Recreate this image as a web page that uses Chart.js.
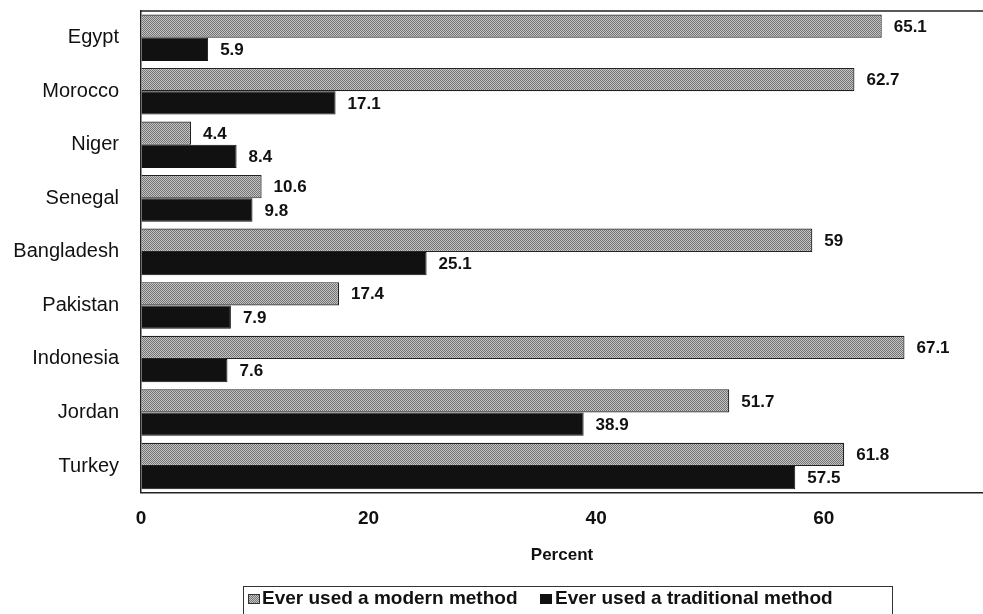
<!DOCTYPE html>
<html>
<head>
<meta charset="utf-8">
<script src="https://cdn.jsdelivr.net/npm/chart.js@4"></script>
<style>
  html, body { margin: 0; padding: 0; background: #fff; }
  #wrap { position: relative; width: 983px; height: 614px; overflow: hidden; }
  #c { position: absolute; left: 0; top: 0; }
  #legend {
    position: absolute; left: 243px; top: 586px; width: 650px; height: 40px;
    border: 1px solid #333; box-sizing: border-box;
    font: bold 19px "Liberation Sans", Arial, sans-serif; color: #111;
  }
  .sw { position: absolute; top: 7px; width: 12px; height: 10px; }
  .sw.mod { border: 1px solid #333; box-sizing: border-box;
    background-image: conic-gradient(#777 25%, #c4c4c4 0 50%, #777 0 75%, #c4c4c4 0);
    background-size: 2px 2px; }
  .sw.trad { background: #111; }
  .lt { position: absolute; top: -1px; white-space: nowrap; line-height: 24px; }
</style>
</head>
<body>
<div id="wrap">
  <canvas id="c" width="983" height="614"></canvas>
  <div id="legend"></div>
</div>
<script>
const categories = ["Egypt", "Morocco", "Niger", "Senegal", "Bangladesh", "Pakistan", "Indonesia", "Jordan", "Turkey"];
const modernValues = [65.1, 62.7, 4.4, 10.6, 59, 17.4, 67.1, 51.7, 61.8];
const traditionalValues = [5.9, 17.1, 8.4, 9.8, 25.1, 7.9, 7.6, 38.9, 57.5];
const seriesNames = ["Ever used a modern method", "Ever used a traditional method"];
const xTickValues = [0, 20, 40, 60];
const xAxisTitle = "Percent";

// stipple pattern for the modern series
function makePattern() {
  const p = document.createElement('canvas');
  p.width = 4; p.height = 4;
  const g = p.getContext('2d');
  g.fillStyle = '#c4c4c4'; g.fillRect(0, 0, 4, 4);
  g.fillStyle = '#737373';
  g.fillRect(0, 0, 1, 1); g.fillRect(2, 0, 1, 1);
  g.fillRect(1, 1, 1, 1); g.fillRect(3, 1, 1, 1);
  g.fillRect(0, 2, 1, 1); g.fillRect(2, 2, 1, 1);
  g.fillRect(1, 3, 1, 1); g.fillRect(3, 3, 1, 1);
  return document.getElementById('c').getContext('2d').createPattern(p, 'repeat');
}

// HTML legend
(function () {
  const lg = document.getElementById('legend');
  lg.innerHTML =
    '<span class="sw mod" style="left:4px"></span><span class="lt" style="left:18px">' + seriesNames[0] + '</span>' +
    '<span class="sw trad" style="left:296px"></span><span class="lt" style="left:311px">' + seriesNames[1] + '</span>';
})();

const valueLabels = {
  id: 'valueLabels',
  afterDatasetsDraw(chart) {
    const ctx = chart.ctx;
    ctx.save();
    ctx.font = 'bold 17px "Liberation Sans", Arial, sans-serif';
    ctx.fillStyle = '#111';
    ctx.textAlign = 'left';
    ctx.textBaseline = 'middle';
    chart.data.datasets.forEach((ds, di) => {
      const meta = chart.getDatasetMeta(di);
      meta.data.forEach((bar, i) => {
        ctx.fillText(String(ds.data[i]), bar.x + 12, bar.y + 1);
      });
    });
    ctx.restore();
  }
};

const frameTop = {
  id: 'frameTop',
  afterDraw(chart) {
    const a = chart.chartArea, ctx = chart.ctx;
    ctx.save();
    ctx.strokeStyle = '#222';
    ctx.lineWidth = 1.5;
    ctx.beginPath();
    ctx.moveTo(a.left - 1, a.top);
    ctx.lineTo(a.right, a.top);
    ctx.stroke();
    ctx.restore();
  }
};

const pattern = makePattern();

new Chart(document.getElementById('c'), {
  type: 'bar',
  data: {
    labels: categories,
    datasets: [
      { label: seriesNames[0], data: modernValues, backgroundColor: pattern, borderColor: '#222', borderWidth: 1.2,
        categoryPercentage: 0.87, barPercentage: 1.0 },
      { label: seriesNames[1], data: traditionalValues, backgroundColor: '#111', borderColor: '#111', borderWidth: 1,
        categoryPercentage: 0.87, barPercentage: 1.0 }
    ]
  },
  options: {
    indexAxis: 'y',
    responsive: false,
    animation: false,
    layout: { padding: { top: 11, left: 0, right: 0, bottom: 48 } },
    plugins: { legend: { display: false }, tooltip: { enabled: false } },
    scales: {
      x: {
        min: 0, max: 74,
        grid: { display: true, drawOnChartArea: false, drawTicks: false },
        border: { display: true, color: '#222', width: 1.5 },
        afterBuildTicks(axis) { axis.ticks = xTickValues.map(v => ({ value: v })); },
        afterFit(axis) { axis.paddingLeft = 0; axis.paddingRight = 0; },
        ticks: {
          padding: 15,
          color: '#111',
          font: { family: '"Liberation Sans", Arial, sans-serif', size: 19, weight: 'bold' },
          callback: (v) => String(v)
        },
        title: {
          display: true, text: xAxisTitle, color: '#111',
          font: { family: '"Liberation Sans", Arial, sans-serif', size: 17, weight: 'bold' },
          padding: { top: 0, bottom: 0 }
        }
      },
      y: {
        grid: { display: true, drawOnChartArea: false, drawTicks: false },
        border: { display: true, color: '#222', width: 1.5 },
        afterFit(axis) { axis.width = 141; axis.paddingTop = 0; axis.paddingBottom = 0; },
        ticks: {
          padding: 22,
          color: '#111',
          font: { family: '"Liberation Sans", Arial, sans-serif', size: 20 }
        }
      }
    }
  },
  plugins: [valueLabels, frameTop]
});
</script>
</body>
</html>
